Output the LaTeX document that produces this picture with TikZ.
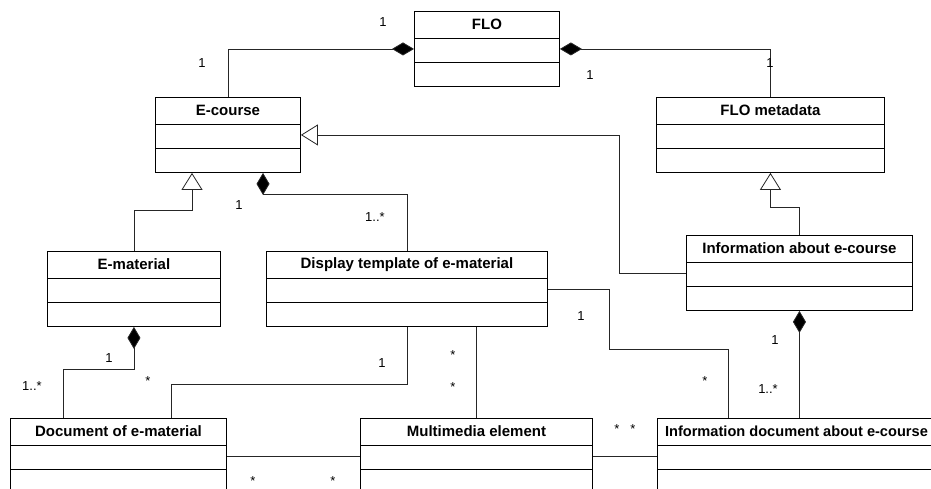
\documentclass[tikz,border=0pt]{standalone}
\usepackage{fontspec}
\setmainfont{Liberation Sans}
\usetikzlibrary{arrows.meta}
\tikzset{
  clsbox/.style={draw=black, line width=0.9pt, fill=white, minimum height=75pt, inner sep=0pt},
  clsline/.style={draw=black, line width=0.9pt},
  clstitle/.style={font=\fontsize{15}{18}\selectfont\bfseries, inner sep=0pt},
  conn/.style={draw=black!85, line width=0.8pt},
  comp/.style={conn, {Diamond[length=22pt,width=13pt,fill=black]}-},
  gen/.style={conn, -{Triangle[open,length=17pt,width=21pt,fill=white]}},
  mult/.style={font=\fontsize{13}{15}\selectfont, anchor=base, inner sep=0pt},
}
\newcommand{\umlbox}[5]{%
  \node[clsbox, minimum width=#4pt, anchor=north west] (#1) at (#2,#3) {};
  \draw[clsline] ([yshift=-27pt]#1.north west) -- ([yshift=-27pt]#1.north east);
  \draw[clsline] ([yshift=-51pt]#1.north west) -- ([yshift=-51pt]#1.north east);
  \node[clstitle] (#1-t) at ([yshift=-13.5pt]#1.north) {#5};
}
\begin{document}
\begin{tikzpicture}[x=1pt,y=-1pt]
\fill[white] (0,0) rectangle (931,489);
\useasboundingbox (0,0) rectangle (931,489);
\clip (0,0) rectangle (931,489);

% class boxes
\umlbox{flo}{414}{11}{145}{FLO}
\umlbox{ecourse}{155}{97}{145}{E-course}
\umlbox{flometa}{656}{97}{228}{FLO metadata}
\umlbox{info}{686}{235}{226}{Information about e-course}
\umlbox{ematerial}{47}{251}{173}{E-material}
\umlbox{display}{266}{251}{281}{Display template of e-material}
\umlbox{doc}{10}{418}{216}{Document of e-material}
\umlbox{multi}{360}{418}{232}{Multimedia element}
\umlbox{infodoc}{657}{418}{278}{\fontsize{14.6}{18}\selectfont Information document about e-course}

% connectors
\draw[comp] (flo.west) -| (ecourse.north);
\draw[comp] (flo.east) -| (flometa.north);
\draw[gen] (info.west) -- ++(-67,0) |- (ecourse.east);
\draw[gen] (ematerial.north) -- ++(0,-41) -| ([xshift=37pt]ecourse.south west);
\draw[comp] ([xshift=108pt]ecourse.south west) -- ++(0,22) -| (display.north);
\draw[gen] (info.north) -- ++(0,-28) -| (flometa.south);
\draw[comp] (info.south) -- (info.south |- infodoc.north);
\draw[comp] (ematerial.south) -- ++(0,42) -| ([xshift=53pt]doc.north west);
\draw[conn] (display.south) -- ++(0,57) -| ([xshift=161pt]doc.north west);
\draw[conn] (multi.north |- display.south) -- (multi.north);
\draw[conn] (display.east) -- ++(61,0) -- ++(0,60) -| ([xshift=71pt]infodoc.north west);
\draw[conn] (doc.east) -- (multi.west);
\draw[conn] (multi.east) -- (infodoc.west);

% multiplicities
\node[mult] (m1) at (383,27) {1};
\node[mult] (m2) at (202,68) {1};
\node[mult] (m3) at (590,80) {1};
\node[mult] (m4) at (770,68) {1};
\node[mult] (m5) at (239,210) {1};
\node[mult] (m6) at (375,222) {1..*};
\node[mult] (m7) at (109,362) {1};
\node[mult] (m8) at (32,390) {1..*};
\node[mult] (m9) at (148,385) {*};
\node[mult] (m10) at (382,367) {1};
\node[mult] (m11) at (453,359.5) {*};
\node[mult] (m12) at (453,391.5) {*};
\node[mult] (m13) at (581,320) {1};
\node[mult] (m14) at (705,385.5) {*};
\node[mult] (m15) at (775,344) {1};
\node[mult] (m16) at (768,393) {1..*};
\node[mult] (m17) at (617,433.5) {*};
\node[mult] (m18) at (633,433.5) {*};
\node[mult] (m19) at (253,485.5) {*};
\node[mult] (m20) at (333,485.5) {*};
\end{tikzpicture}
\end{document}
